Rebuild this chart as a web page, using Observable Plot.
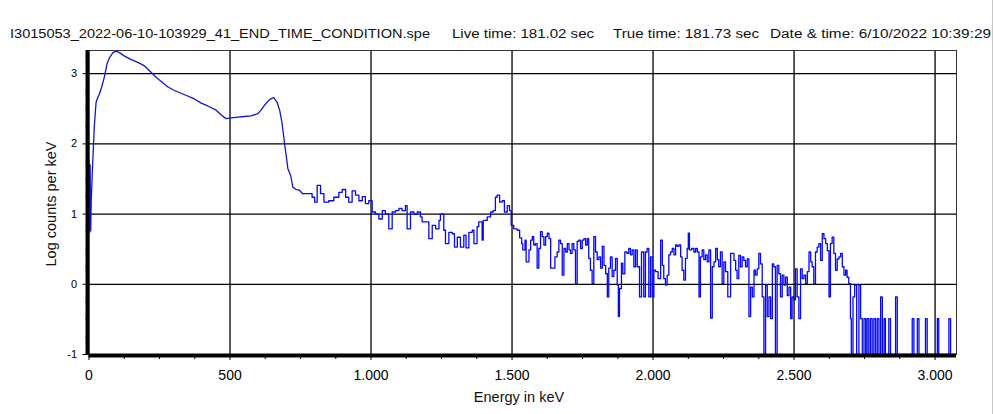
<!DOCTYPE html>
<html>
<head>
<meta charset="utf-8">
<script src="https://cdn.jsdelivr.net/npm/d3@7"></script>
<script src="https://cdn.jsdelivr.net/npm/@observablehq/plot@0.6"></script>
<style>
  html, body { margin: 0; padding: 0; background: #fff; }
  #chart { position: relative; width: 994px; height: 414px; }
</style>
</head>
<body>
<div id="chart"></div>
<script>
// ---- header texts ----
const fileName = "I3015053_2022-06-10-103929_41_END_TIME_CONDITION.spe";
const liveTime = "Live time: 181.02 sec";
const trueTime = "True time: 181.73 sec";
const dateTime = "Date & time: 6/10/2022 10:39:29";
const xTitle = "Energy in keV";
const yTitle = "Log counts per keV";

// ---- axis ticks ----
const xMajorTicks = [0, 500, 1000, 1500, 2000, 2500, 3000];
const xMinorTicks = [125, 250, 375, 625, 750, 875, 1125, 1250, 1375, 1625, 1750, 1875, 2125, 2250, 2375, 2625, 2750, 2875];
const yMajorTicks = [-1, 0, 1, 2, 3];
const yMinorTicks = [-0.75, -0.5, -0.25, 0.25, 0.5, 0.75, 1.25, 1.5, 1.75, 2.25, 2.5, 2.75, 3.25];
const xDomain = [0, 3076];
const yDomain = [-1, 3.33];

// ---- spectrum (energy in keV, log10 counts per keV) ----
const energy = [
  0, 2, 4, 6, 8, 12, 19, 25, 31, 37, 45, 53, 58, 64, 73, 85, 96, 108, 126, 150,
  173, 197, 220, 238, 256, 280, 303, 339, 374, 398, 421, 451, 469, 486, 504, 528, 551, 575, 599, 610,
  622, 640, 655, 667, 676, 684, 693, 699, 705, 715, 723, 735, 746, 758,
  774, 791, 800, 809, 821, 833, 850, 868, 886, 898, 910, 921, 933, 945, 957, 969, 980, 992,
  1004, 1016, 1028, 1040, 1051, 1063, 1075, 1087, 1099, 1110, 1122, 1128, 1140, 1152, 1164, 1175, 1181, 1193,
  1205, 1217, 1229, 1241, 1246, 1258, 1264, 1276, 1288, 1296, 1306, 1317, 1329, 1337, 1347, 1359, 1365, 1376,
  1382, 1394, 1398, 1412, 1424, 1433, 1441, 1447, 1456, 1465, 1473, 1483, 1491, 1497, 1506, 1518,
  1527, 1534, 1538, 1546, 1550, 1560, 1566, 1572, 1577, 1583, 1589, 1595, 1601, 1607, 1613, 1619, 1625, 1631,
  1637, 1645, 1652, 1660, 1666, 1672, 1678, 1684, 1690, 1696, 1702, 1707, 1713, 1719, 1725, 1731, 1737, 1743,
  1749, 1755, 1761, 1767, 1772, 1778, 1784, 1790, 1796, 1802, 1808, 1814, 1820, 1826, 1832, 1838, 1843, 1849,
  1855, 1861, 1867, 1873, 1877, 1881, 1888, 1893, 1900, 1908, 1914, 1920, 1926, 1932, 1938, 1944, 1952, 1959,
  1967, 1973, 1979, 1985, 1991, 1997, 2003, 2009, 2018, 2027, 2033, 2038, 2044, 2050, 2056, 2062, 2068, 2074,
  2080, 2086, 2092, 2098, 2103, 2109, 2115, 2121, 2125, 2129, 2137, 2145, 2151, 2157, 2163, 2168, 2174, 2180,
  2186, 2192, 2198, 2204, 2210, 2216, 2222, 2228, 2233, 2239, 2245, 2251, 2257, 2265, 2275, 2281, 2287, 2293,
  2298, 2304, 2310, 2316, 2322, 2328, 2334, 2340, 2346, 2352, 2358, 2363, 2369, 2375, 2381, 2387, 2393, 2399,
  2405, 2411, 2417, 2423, 2428, 2434, 2440, 2446, 2452, 2458, 2464, 2470, 2476, 2482, 2488, 2493, 2499, 2505,
  2511, 2517, 2523, 2529, 2535, 2541, 2547, 2553, 2559, 2564, 2570, 2576, 2582, 2588, 2594, 2600, 2606, 2612,
  2618, 2624, 2629, 2635, 2641, 2647, 2653, 2659, 2665, 2671, 2677, 2683, 2688, 2694, 2700, 2703, 2709, 2715,
  2722, 2730, 2736, 2742, 2748, 2754, 2759, 2765, 2771, 2777, 2783, 2789, 2795, 2801, 2807, 2813, 2819, 2824,
  2836, 2842, 2860, 2866, 2919, 2925, 2937, 2943, 2966, 2972, 3008, 3013, 3049, 3055, 3076
];
const logCounts = [
  1.76, 0.74, 1.70, 0.76, 1.19, 1.62, 2.26, 2.59, 2.66, 2.71, 2.81, 2.93, 3.02, 3.14, 3.23, 3.30, 3.32, 3.30, 3.25, 3.20,
  3.16, 3.11, 3.02, 2.95, 2.89, 2.81, 2.76, 2.70, 2.64, 2.58, 2.54, 2.48, 2.41, 2.36, 2.37, 2.38, 2.39, 2.40, 2.43, 2.48,
  2.55, 2.63, 2.66, 2.59, 2.48, 2.31, 2.02, 1.84, 1.65, 1.55, 1.38, 1.35, 1.34, 1.29,
  1.29, 1.24, 1.17, 1.41, 1.29, 1.17, 1.19, 1.24, 1.31, 1.35, 1.24, 1.17, 1.33, 1.27, 1.19, 1.25, 1.15, 1.19,
  1.03, 1.00, 0.93, 1.05, 1.00, 0.79, 1.03, 1.05, 1.08, 1.05, 1.12, 0.79, 1.03, 1.00, 1.03, 0.96, 0.89, 0.89,
  0.65, 0.84, 0.79, 0.91, 1.00, 0.77, 0.58, 0.74, 0.72, 0.53, 0.67, 0.53, 0.70, 0.52, 0.74, 0.77, 0.58, 0.82,
  0.89, 0.63, 0.91, 0.96, 1.03, 1.05, 1.24, 1.27, 1.17, 1.19, 1.03, 1.12, 1.05, 0.84, 0.79, 0.77,
  0.66, 0.58, 0.49, 0.63, 0.32, 0.49, 0.63, 0.68, 0.56, 0.58, 0.23, 0.51, 0.75, 0.68, 0.56, 0.68, 0.73, 0.65,
  0.23, 0.23, 0.39, 0.46, 0.63, 0.58, 0.13, 0.51, 0.46, 0.58, 0.49, 0.44, 0.58, 0.49, 0.01, 0.61, 0.63, 0.51,
  0.63, 0.65, 0.56, 0.65, 0.37, 0.20, 0.01, 0.68, 0.46, 0.35, 0.39, 0.23, 0.54, 0.27, 0.15, -0.18, 0.23, 0.39,
  0.11, 0.20, 0.37, -0.01, -0.46, -0.06, 0.30, 0.15, 0.46, 0.44, 0.51, 0.42, 0.49, 0.25, 0.49, 0.25, -0.18, 0.46,
  -0.18, 0.46, 0.51, -0.18, 0.39, -0.18, 0.20, 0.18, 0.08, 0.63, 0.27, 0.08, -0.01, 0.13, 0.42, 0.46, 0.51, 0.42,
  0.56, 0.54, 0.56, 0.39, 0.20, 0.06, 0.37, 0.51, 0.73, 0.49, 0.51, 0.46, 0.51, 0.46, -0.18, 0.39, 0.49, 0.35,
  0.42, 0.32, 0.49, -0.48, 0.25, 0.32, 0.51, 0.35, 0.25, 0.46, 0.01, 0.32, 0.18, -0.18, 0.44, 0.44, 0.34, 0.20,
  0.08, 0.41, 0.25, 0.39, 0.34, 0.25, 0.36, -0.46, -0.04, -0.18, 0.20, 0.13, 0.22, 0.44, 0.29, -0.18, -1, -0.01,
  -0.46, -0.18, -0.49, 0.29, 0.25, -1, 0.27, 0.15, -0.18, 0.13, -0.01, 0.10, -0.16, -0.04, -0.49, -0.18, -0.22, 0.22,
  -0.18, -0.49, 0.22, 0.08, 0.13, 0.01, 0.18, 0.46, 0.32, 0.25, 0.01, 0.46, 0.53, 0.58, 0.34, 0.72, 0.65, 0.58,
  0.48, -0.18, 0.58, 0.67, 0.44, 0.20, 0.36, 0.39, 0.44, 0.25, 0.13, 0.20, 0.10, 0.01, -0.49, -1, -0.18, -0.01,
  -1, -0.01, -0.49, -1, -0.49, -1, -0.49, -1, -0.49, -1, -0.49, -1, -0.49, -1, -0.18, -1, -0.49, -1,
  -0.49, -1, -0.18, -1, -0.49, -1, -0.49, -1, -0.49, -1, -0.49, -1, -0.49, -1, -1
];

const spectrum = energy.map((e, i) => ({e, v: logCounts[i]}));
const smoothLimit = 758;
const fmtX = d => String(d).replace(/\B(?=(\d{3})+(?!\d))/g, ".");
const FONT = "'Liberation Sans', Arial, sans-serif";

const chart = Plot.plot({
  width: 994,
  height: 414,
  marginLeft: 88.5,
  marginRight: 38,
  marginTop: 50,
  marginBottom: 60,
  style: {fontFamily: FONT, color: "#000", background: "#fff", overflow: "visible"},
  x: {domain: xDomain},
  y: {domain: yDomain},
  marks: [
    Plot.gridX(xMajorTicks.filter(d => d > 0), {stroke: "#000", strokeOpacity: 1, strokeWidth: 1.3}),
    Plot.gridY(yMajorTicks.filter(d => d > -1), {stroke: "#000", strokeOpacity: 1, strokeWidth: 1.3}),
    Plot.frame({stroke: "#333", strokeWidth: 1}),
    Plot.line(spectrum.filter(d => d.e <= smoothLimit), {x: "e", y: "v", stroke: "#1414d8", strokeWidth: 1.3, curve: "linear", clip: true}),
    Plot.line(spectrum.filter(d => d.e >= smoothLimit), {x: "e", y: "v", stroke: "#0808f4", strokeWidth: 1.3, curve: "step-after", clip: true}),
    Plot.ruleX([xDomain[0]], {stroke: "#000", strokeWidth: 4, dx: -1.5}),
    Plot.ruleY([yDomain[0]], {stroke: "#000", strokeWidth: 4, dy: 1}),
    Plot.axisX(xMajorTicks, {tickSize: 6, tickPadding: 10, fontSize: 14, tickFormat: fmtX, label: null, stroke: "#000"}),
    Plot.axisX(xMinorTicks, {tickSize: 5, text: null, label: null, stroke: "#000"}),
    Plot.axisY(yMajorTicks, {tickSize: 6, tickPadding: 6, fontSize: 11, tickFormat: d => String(d), label: null, stroke: "#000"}),
    Plot.axisY(yMinorTicks, {tickSize: 3, text: null, label: null, stroke: "#000"})
  ]
});

const svg = d3.select(chart);
// header line
const header = [
  {t: fileName, x: 10, w: 420},
  {t: liveTime, x: 452, w: 142},
  {t: trueTime, x: 613, w: 146},
  {t: dateTime, x: 770, w: 221}
];
header.forEach(h => {
  svg.append("text")
    .attr("x", h.x).attr("y", 37.5)
    .attr("text-anchor", "start")
    .attr("textLength", h.w).attr("lengthAdjust", "spacingAndGlyphs")
    .style("font", `12.5px ${FONT}`).attr("fill", "#111")
    .text(h.t);
});
// axis titles
svg.append("text")
  .attr("x", 519).attr("y", 402)
  .attr("text-anchor", "middle")
  .style("font", `14.5px ${FONT}`).attr("fill", "#111")
  .text(xTitle);
svg.append("text")
  .attr("transform", "translate(56,204) rotate(-90)")
  .attr("text-anchor", "middle")
  .style("font", `14.5px ${FONT}`).attr("fill", "#111")
  .text(yTitle);
// window border on the right
svg.append("line").attr("x1", 992.5).attr("x2", 992.5).attr("y1", 0).attr("y2", 414)
  .attr("stroke", "#c8c8c8").attr("stroke-width", 1);

document.getElementById("chart").appendChild(chart);
</script>
</body>
</html>
